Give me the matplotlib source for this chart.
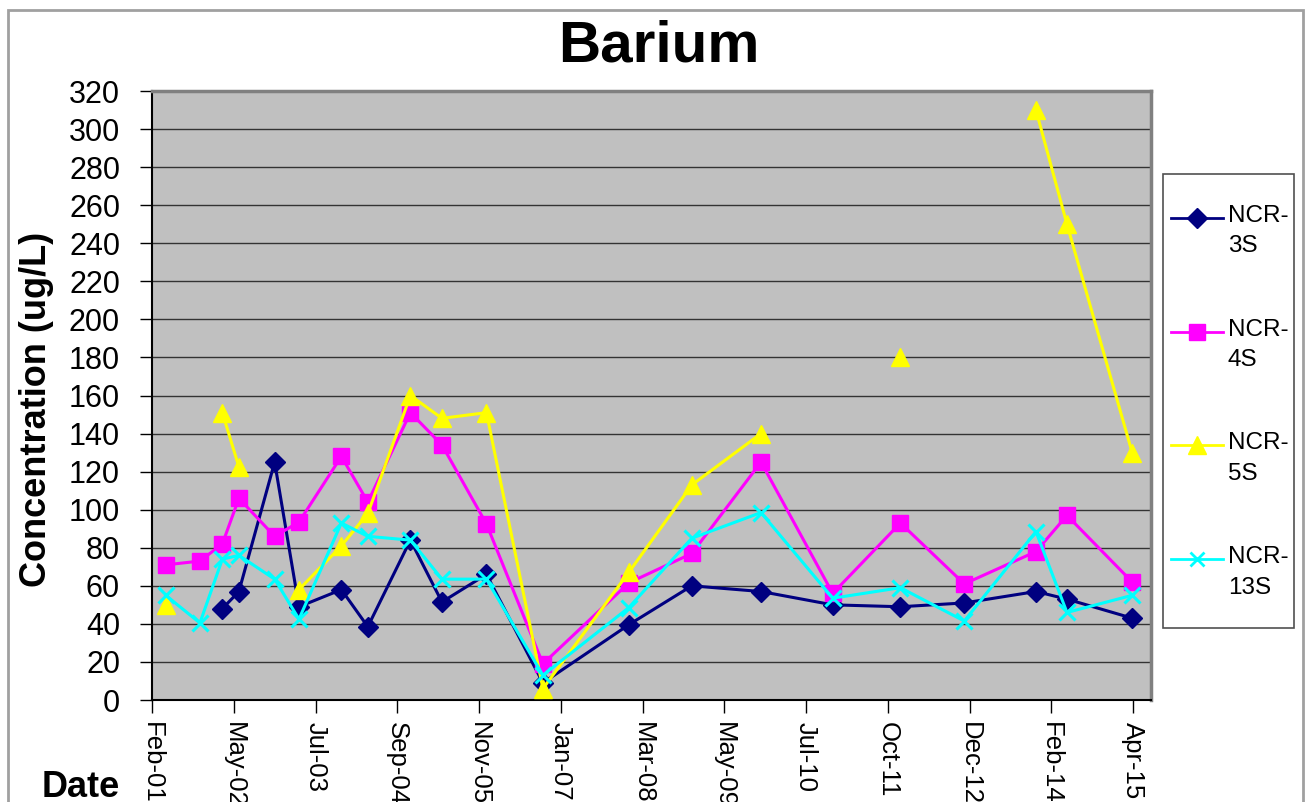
import numpy as np
import pandas as pd
import matplotlib
matplotlib.use("Agg")
import matplotlib.pyplot as plt
import matplotlib.dates as mdates
from matplotlib.patches import Rectangle
from matplotlib.lines import Line2D

plt.rcParams['font.family'] = ['Liberation Sans', 'DejaVu Sans']

# sample dates
dates = ['2001-05-11', '2001-11-07', '2002-03-05', '2002-05-31', '2002-12-05',
         '2003-04-12', '2003-11-21', '2004-04-08', '2004-11-18', '2005-05-03',
         '2005-12-23', '2006-10-16', '2008-01-10', '2008-12-07', '2009-12-06',
         '2010-12-18', '2011-12-09', '2012-11-09', '2013-11-21', '2014-05-03',
         '2015-04-11']

ncr_3s = [None, None, 48, 57, 125, 49, 58, 38.5, 84, 51.5,
          66, 9, 39.5, 60, 57, 50, 49, 51, 57, 53, 43]
ncr_4s = [71, 73, 82, 106, 86, 93.5, 128, 104, 151, 134,
          92.5, 19, 61.5, 77, 125, 56, 93, 61, 78, 97, 62]
ncr_5s = [50, None, 151, 122.5, None, 58, 81, 98, 160, 148,
          151, 6, 67, 113, 140, None, 180, None, 310, 250, 130]
ncr_13s = [55, 40.5, 74, 76, 63.5, 42.5, 93, 86, 84, 63.5,
           63.5, 13, 48.5, 85, 98.5, 53.5, 59, 41.5, 88.5, 46, 55]

series_names = ['NCR-3S', 'NCR-4S', 'NCR-5S', 'NCR-13S']
legend_labels = ['NCR-\n3S', 'NCR-\n4S', 'NCR-\n5S', 'NCR-\n13S']

df = pd.DataFrame({'Date': pd.to_datetime(dates),
                   'NCR-3S': ncr_3s, 'NCR-4S': ncr_4s,
                   'NCR-5S': ncr_5s, 'NCR-13S': ncr_13s})
for c in series_names:
    df[c] = df[c].astype(float)

styles = {
    'NCR-3S': dict(color='#000080', marker='D', ms=10.5),
    'NCR-4S': dict(color='#FF00FF', marker='s', ms=12),
    'NCR-5S': dict(color='#FFFF00', marker='^', ms=13),
    'NCR-13S': dict(color='#00FFFF', marker='x', ms=11),
}

W, H = 1307, 802
fig = plt.figure(figsize=(W / 100, H / 100), dpi=100)

def fx(px):
    return px / W

def fy(py):
    return 1 - py / H

# plot area in pixels
L, R, T, B = 152, 1151, 91, 700
ax = fig.add_axes([fx(L), fy(B), fx(R - L), (B - T) / H])
ax.set_facecolor('#C0C0C0')

x = mdates.date2num(df['Date'])
for name in series_names:
    st = styles[name]
    ax.plot(x, df[name], color=st['color'], lw=2.2, marker=st['marker'],
            ms=st['ms'], mec=st['color'], mfc=st['color'],
            mew=2.2 if st['marker'] == 'x' else 1, label=name, clip_on=False,
            zorder=3)

# date axis like excel: min + 430 day steps
d0 = mdates.date2num(pd.Timestamp('2001-02-28'))
step = 430
ax.set_xlim(d0, d0 + 5254)
ax.set_xticks([d0 + step * k for k in range(13)])
ax.xaxis.set_major_formatter(mdates.DateFormatter('%b-%y'))

ax.set_ylim(0, 320)
ax.set_yticks(np.arange(0, 321, 20))
ax.yaxis.grid(True, color='#333333', lw=1)
ax.set_axisbelow(True)

ax.tick_params(axis='both', direction='out', length=9, width=1,
               colors='black')
ax.tick_params(axis='y', pad=14, labelsize=22)
ax.tick_params(axis='x', pad=6.5, labelsize=18.5)
for lab in ax.get_xticklabels():
    lab.set_rotation(270)
    lab.set_ha('center')
    lab.set_va('top')

for s in ['left', 'bottom']:
    ax.spines[s].set_color('black')
    ax.spines[s].set_linewidth(1.5)
for s in ['top', 'right']:
    ax.spines[s].set_color('#808080')
    ax.spines[s].set_linewidth(2.5)

# titles
fig.text(fx(659), fy(47), 'Barium', fontsize=42, fontweight='bold',
         ha='center', va='center')
fig.text(fx(37), fy(409), 'Concentration (ug/L)', fontsize=26,
         fontweight='bold', rotation=90, ha='center', va='center')
fig.text(fx(81), fy(797), 'Date', fontsize=26, fontweight='bold',
         ha='center', va='baseline')

# legend box
fig.patches.append(Rectangle((fx(1163), fy(628)), fx(1294 - 1163),
                             (628 - 174) / H, transform=fig.transFigure,
                             fill=False, edgecolor='#505050', lw=1.2))
for i, name in enumerate(series_names):
    st = styles[name]
    yy = 217.7 + 113.8 * i
    fig.add_artist(Line2D([fx(1171), fx(1223)], [fy(yy), fy(yy)],
                          transform=fig.transFigure, color=st['color'], lw=2))
    fig.add_artist(Line2D([fx(1197)], [fy(yy)], transform=fig.transFigure,
                          color=st['color'], marker=st['marker'],
                          ms=st['ms'] * 0.95, mfc=st['color'], mec=st['color'],
                          mew=2 if st['marker'] == 'x' else 1))
    fig.text(fx(1228), fy(yy - 13), legend_labels[i], fontsize=17.5,
             ha='left', va='top', linespacing=1.5)

# outer chart border
fig.patches.append(Rectangle((fx(8), -0.05), fx(1303 - 8), fy(10) + 0.05,
                             transform=fig.transFigure, fill=False,
                             edgecolor='#A0A0A0', lw=2))

fig.savefig('out.png', dpi=100)
